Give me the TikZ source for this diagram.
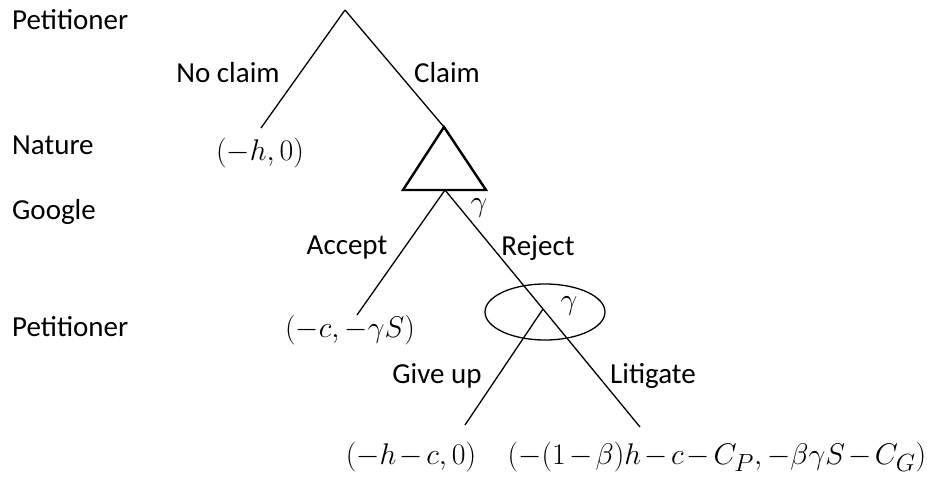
\documentclass[tikz,border=0pt]{standalone}
\usepackage{fontspec}
\setmainfont{Carlito}
\usepackage{graphicx}
\usepackage{tikz}
\usetikzlibrary{positioning,shapes.geometric}

% payoffs and labels in math, drawn a little larger
\newcommand{\bigmath}[1]{\scalebox{1.2}{$\medmuskip=2mu plus 1mu minus 1mu #1$}}

\begin{document}
\begin{tikzpicture}[
                x=1pt, y=-1pt,
                font=\fontsize{29}{34}\selectfont,
                player/.style={anchor=west, inner sep=0pt},
                movelabel/.style={inner sep=0pt},
                payoff/.style={inner sep=0pt, font=\fontsize{24.88}{30}\selectfont},
                branch/.style={line width=1.3pt},
                nature/.style={line width=2.4pt, line join=miter}
                ]
                \useasboundingbox (0,0) rectangle (927,479);

                % players on the left
                \node[player] (pl1) at (12,20) {Petitioner};
                \node[player] (pl2) at (12,145) {Nature};
                \node[player] (pl3) at (12,212) {Google};
                \node[player] (pl4) at (12,327) {Petitioner};

                % decision points
                \coordinate (root) at (345,10);
                \coordinate (noclaim) at (261,128);
                \coordinate (chance) at (444,127);
                \coordinate (google) at (445,190);
                \coordinate (accept) at (357,315);
                \coordinate (petit) at (543,309);
                \coordinate (giveup) at (465,425);
                \coordinate (litigate) at (640,427);

                % information set round the second petitioner move
                \node[ellipse, draw, line width=1.3pt, minimum width=120pt, minimum height=56pt] (infoset) at (545,312) {};

                % chance move drawn as a triangle
                \draw[nature] (chance) -- (403,190) -- (486,190) -- cycle;

                \draw[branch] (root) -- (noclaim);
                \draw[branch] (root) -- (chance);
                \draw[branch] (google) -- (accept);
                \draw[branch] (google) -- (petit) -- (litigate);
                \draw[branch] (petit) -- (giveup);

                % move labels
                \node[movelabel] (lnoclaim) at (228,73) {No claim};
                \node[movelabel] (lclaim) at (447,73) {Claim};
                \node[movelabel] (laccept) at (347,248) {Accept};
                \node[movelabel] (lreject) at (538,248) {Reject};
                \node[movelabel] (lgiveup) at (437,376) {Give up};
                \node[movelabel] (llitigate) at (653,376) {Litigate};
                \node[payoff] (g1) at (479,208) {\bigmath{\gamma}};
                \node[payoff] (g2) at (569,306) {\bigmath{\gamma}};

                % payoffs
                \node[payoff] (p1) at (260,153) {\bigmath{(-h,0)}};
                \node[payoff] (p2) at (350,330) {\bigmath{(-c,-\gamma S)}};
                \node[payoff] (p3) at (411,457) {\bigmath{(-h-c,0)}};
                \node[payoff] (p4) at (717,457) {\bigmath{(-(1-\beta)h-c-C_P,-\beta\gamma S-C_G)}};
            \end{tikzpicture}
\end{document}
